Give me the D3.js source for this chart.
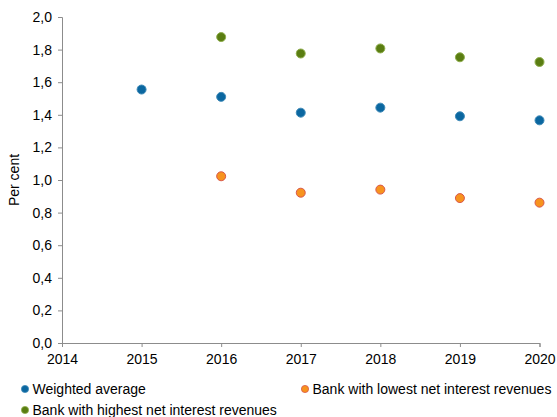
<!DOCTYPE html>
<html>
<head>
<meta charset="utf-8">
<script src="https://cdn.jsdelivr.net/npm/d3@7"></script>
<style>
  html, body { margin: 0; padding: 0; background: #fff; }
  svg { display: block; font-family: "Liberation Sans", Arial, sans-serif; }
</style>
</head>
<body>
<svg id="chart" width="557" height="417"></svg>
<script>
// Net interest revenues, per cent
const years = [2015, 2016, 2017, 2018, 2019, 2020];
const weightedAverage = [1.555, 1.51, 1.413, 1.444, 1.391, 1.366];
const highestBank = [null, 1.877, 1.776, 1.807, 1.753, 1.724];
const lowestBank = [null, 1.023, 0.922, 0.941, 0.889, 0.861];
const yTicks = [0, 0.2, 0.4, 0.6, 0.8, 1.0, 1.2, 1.4, 1.6, 1.8, 2.0];
const xTicks = [2014, 2015, 2016, 2017, 2018, 2019, 2020];

const series = [
  { name: "Weighted average", values: weightedAverage, fill: "#0b67a0", stroke: "#3f8ab8" },
  { name: "Bank with lowest net interest revenues", values: lowestBank, fill: "#f7931e", stroke: "#d9574a" },
  { name: "Bank with highest net interest revenues", values: highestBank, fill: "#5a7d12", stroke: "#8fae4c" }
];

const svg = d3.select("#chart");
const margin = { left: 62, right: 17.5, top: 17, bottom: 74 };
const W = 557, H = 417;

const x = d3.scaleLinear().domain([2014, 2020]).range([margin.left, W - margin.right]);
const y = d3.scaleLinear().domain([0, 2]).range([H - margin.bottom, margin.top]);

const fmt = d => d3.format(".1f")(d).replace(".", ",");
const axisColor = "#8c8c8c";

// Y axis
const gy = svg.append("g")
  .attr("transform", `translate(${margin.left},0)`)
  .call(d3.axisLeft(y).tickValues(yTicks).tickFormat(fmt).tickSize(4).tickPadding(6));
gy.select(".domain").attr("stroke", axisColor);
gy.selectAll(".tick line").attr("stroke", axisColor);
gy.selectAll(".tick text").attr("fill", "#000").style("font-size", "14px")
  .style("font-family", "'Liberation Sans', Arial, sans-serif");

// X axis
const gx = svg.append("g")
  .attr("transform", `translate(0,${y(0)})`)
  .call(d3.axisBottom(x).tickValues(xTicks).tickFormat(d3.format("d")).tickSize(4).tickPadding(7));
gx.select(".domain").attr("stroke", axisColor);
gx.selectAll(".tick line").attr("stroke", axisColor);
gx.selectAll(".tick text").attr("fill", "#000").style("font-size", "14px")
  .style("font-family", "'Liberation Sans', Arial, sans-serif");

// Y axis title
svg.append("text")
  .attr("transform", `translate(19,${(y(0) + y(2)) / 2}) rotate(-90)`)
  .attr("text-anchor", "middle")
  .style("font-size", "14px")
  .text("Per cent");

// Points
series.forEach(s => {
  const pts = years.map((yr, i) => ({ yr, v: s.values[i] })).filter(d => d.v != null);
  svg.append("g").selectAll("circle").data(pts).join("circle")
    .attr("cx", d => x(d.yr))
    .attr("cy", d => y(d.v))
    .attr("r", 4.5)
    .attr("fill", s.fill)
    .attr("stroke", s.stroke)
    .attr("stroke-width", 1);
});

// Legend
const legendItems = [
  { s: series[0], lx: 25, ly: 389 },
  { s: series[1], lx: 305, ly: 389 },
  { s: series[2], lx: 25, ly: 410 }
];
const lg = svg.append("g").selectAll("g").data(legendItems).join("g")
  .attr("transform", d => `translate(${d.lx},${d.ly})`);
lg.append("circle").attr("r", 3.6)
  .attr("fill", d => d.s.fill).attr("stroke", d => d.s.stroke).attr("stroke-width", 0.8);
lg.append("text").attr("x", 7.5).attr("dy", "0.35em")
  .style("font-size", "14px")
  .text(d => d.s.name);
</script>
</body>
</html>
